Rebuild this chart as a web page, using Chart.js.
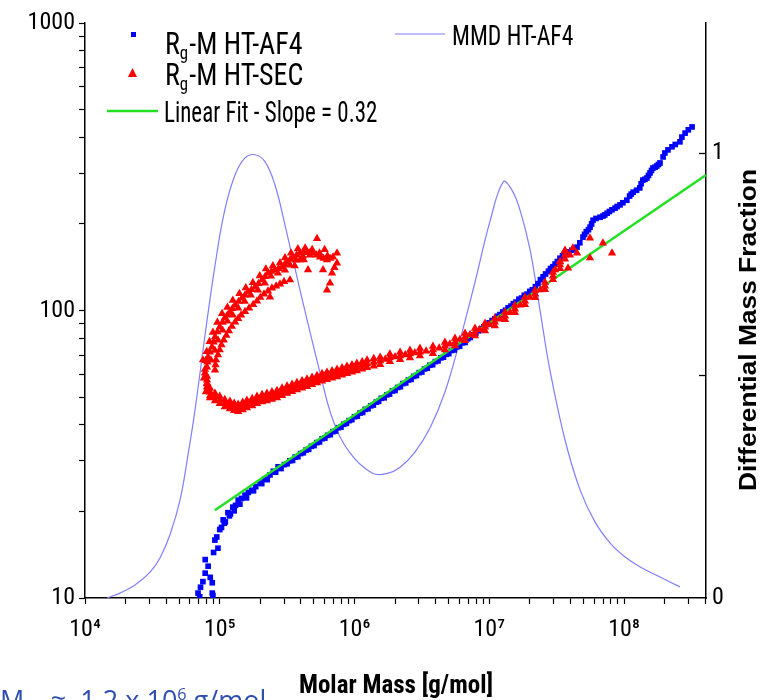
<!DOCTYPE html>
<html>
<head>
<meta charset="utf-8">
<script src="https://cdn.jsdelivr.net/npm/chart.js@4.4.1/dist/chart.umd.min.js"></script>
<style>
    html, body { margin: 0; padding: 0; background: #fff; overflow: hidden; }
    #wrap { position: relative; width: 763px; height: 700px; }
    #note {
        position: absolute; left: 0; top: 686px;
        font: 27px "Open Sans", "Noto Sans", sans-serif; line-height: 1;
        color: #2f4fb0; white-space: nowrap;
    }
    #note sub, #note sup { font-size: 0.6em; line-height: 0; }
</style>
</head>
<body>
<div id="wrap">
    <canvas id="chart" width="763" height="700"></canvas>
    <div id="note">M<sub>w</sub>&nbsp; ≈ &nbsp;1.2 x 10<sup>6</sup> g/mol</div>
</div>
<script>
const NARROW = '"Roboto Condensed", "Liberation Sans", Arial, sans-serif';
const WIDE = '"Liberation Sans", Arial, sans-serif';

// axes
const massDecades = [1e4, 1e5, 1e6, 1e7, 1e8];
const massTickLabels = ['10⁴', '10⁵', '10⁶', '10⁷', '10⁸'];
const rgDecades = [10, 100, 1000];
const rgTickLabels = ['10', '100', '1000'];
const fractionTicks = [0, 0.5, 1];
const fractionTickLabels = ['0', '', '1'];
const minorSteps = [2, 3, 4, 5, 6, 7, 8, 9];

// MMD HT-AF4 (right axis)
const mmdMass = [1.46e4, 1.82e4, 2.35e4, 3.04e4, 3.6e4, 4.27e4, 5.07e4, 5.81e4, 6.55e4, 7.78e4, 9.23e4,
    1.09e5, 1.3e5, 1.54e5, 1.83e5, 2.17e5, 2.57e5, 3.05e5, 3.94e5, 5.55e5, 6.92e5, 9.26e5, 1.35e6, 1.75e6,
    2.18e6, 2.81e6, 3.63e6, 4.69e6, 6.07e6, 7.84e6, 1.01e7, 1.27e7, 1.47e7, 1.69e7, 2.01e7, 2.38e7, 2.82e7,
    3.65e7, 4.72e7, 6.09e7, 7.87e7, 1.02e8, 1.31e8, 1.85e8, 2.6e8];
const mmdFraction = [0, 0.011, 0.029, 0.058, 0.09, 0.142, 0.22, 0.321, 0.422, 0.591, 0.748,
    0.872, 0.951, 0.989, 0.996, 0.98, 0.928, 0.838, 0.692, 0.506, 0.4, 0.326, 0.281, 0.28,
    0.294, 0.328, 0.382, 0.463, 0.58, 0.71, 0.845, 0.935, 0.917, 0.872, 0.782, 0.647, 0.512,
    0.355, 0.243, 0.171, 0.124, 0.092, 0.07, 0.047, 0.025];

// Rg-M HT-AF4
const af4Mass = [6.9e4, 7.1e4, 7.2e4, 7.5e4, 7.8e4, 7.8e4, 8.2e4, 8.5e4, 8.8e4, 8.8e4, 8.9e4, 9.0e4, 9.2e4, 9.5e4, 9.7e4,
    1.0e5, 1.03e5, 1.06e5, 1.1e5, 1.15e5, 1.2e5, 1.25e5, 1.31e5, 1.37e5, 1.45e5, 1.54e5, 1.63e5, 1.73e5, 1.85e5, 1.99e5,
    2.15e5, 2.36e5, 2.5e5, 2.71e5,
    3.02e5, 3.31e5, 3.63e5, 3.98e5, 4.37e5, 4.79e5, 5.25e5, 5.75e5, 6.31e5, 6.92e5, 7.59e5, 8.32e5, 9.12e5,
    1.0e6, 1.1e6, 1.2e6, 1.32e6, 1.45e6, 1.58e6, 1.74e6, 1.91e6, 2.09e6, 2.29e6, 2.51e6, 2.75e6, 3.02e6, 3.31e6,
    3.63e6, 3.98e6, 4.37e6, 4.79e6, 5.25e6, 5.75e6, 6.31e6, 6.92e6, 7.59e6, 8.32e6, 9.12e6,
    1.0e7, 1.1e7, 1.2e7, 1.32e7, 1.45e7, 1.58e7, 1.74e7, 1.91e7, 2.09e7,
    2.3e7, 2.51e7, 2.75e7, 2.97e7, 3.2e7, 3.5e7, 3.74e7, 4.1e7, 4.48e7, 4.96e7, 5.25e7, 5.6e7, 5.89e7, 6.64e7,
    6.98e7, 7.5e7, 8.15e7, 8.58e7, 9.34e7, 1.05e8, 1.1e8, 1.17e8, 1.31e8, 1.38e8, 1.48e8, 1.56e8, 1.64e8,
    1.75e8, 1.85e8, 1.95e8, 2.01e8, 2.27e8, 2.6e8, 2.69e8, 2.84e8, 3.2e8];
const af4Rg = [10.4, 10.1, 10.9, 11.4, 12.2, 13.6, 12.9, 11.8, 11.3, 10.4, 10.2, 14.4, 15.9, 16.3, 14.9,
    17.3, 17.6, 18.7, 18.4, 19.8, 19.6, 20.7, 21.0, 21.9, 22.2, 22.8, 23.3, 23.7, 24.4, 25.1,
    25.9, 26.8, 27.6, 28.6,
    29.1, 30.0, 30.9, 31.8, 32.7, 33.7, 34.7, 35.8, 36.8, 37.9, 39.1, 40.2, 41.4,
    42.7, 44.0, 45.3, 46.6, 48.0, 49.5, 50.9, 52.5, 54.0, 55.7, 57.3, 59.0, 60.8, 62.6,
    64.5, 66.4, 68.4, 70.4, 72.6, 74.7, 77.2, 79.7, 82.3, 85.0, 87.8,
    90.6, 93.6, 96.8, 100.2, 103.6, 107, 110.5, 114, 118,
    124, 131, 137, 142, 148, 155, 158, 162, 166, 180, 188, 195, 206, 211,
    213, 218, 224, 227, 233, 242, 250, 258, 267, 284, 289, 301, 313,
    318, 326, 342, 353, 371, 386, 401, 414, 435];

// Rg-M HT-AF4, second row of the dense band
const af4BandMass = [1.08e5, 1.18e5, 1.28e5, 1.41e5, 1.58e5, 1.78e5, 2.05e5, 2.25e5, 2.6e5, 2.85e5,
    3.16e5, 3.47e5, 3.8e5, 4.17e5, 4.57e5, 5.01e5, 5.5e5, 6.03e5, 6.61e5, 7.24e5, 7.94e5, 8.71e5, 9.55e5,
    1.05e6, 1.15e6, 1.26e6, 1.38e6, 1.51e6, 1.66e6, 1.82e6, 2.0e6, 2.19e6, 2.4e6, 2.63e6, 2.88e6, 3.16e6,
    3.47e6, 3.8e6, 4.17e6, 4.57e6, 5.01e6, 5.5e6, 6.03e6, 6.61e6, 7.24e6, 7.94e6, 8.71e6, 9.55e6,
    1.05e7, 1.15e7, 1.26e7, 1.38e7, 1.51e7, 1.66e7, 1.82e7, 2.0e7,
    2.2e7, 2.4e7, 2.62e7, 2.85e7, 3.08e7, 3.35e7, 3.6e7, 3.9e7, 4.3e7, 4.7e7, 5.1e7, 5.45e7, 5.75e7, 6.2e7,
    7.2e7, 7.8e7, 8.9e7, 9.8e7, 1.13e8, 1.24e8, 1.34e8, 1.43e8, 1.52e8, 1.6e8, 1.7e8, 1.8e8, 2.12e8, 2.4e8, 3.0e8];
const af4BandRg = [18.2, 19.3, 20.1, 21.2, 22.3, 23.6, 25.0, 25.8, 27.4, 28.2,
    29.3, 30.1, 31.0, 32.0, 32.9, 33.9, 34.9, 36.0, 37.0, 38.1, 39.3, 40.5, 41.7,
    42.9, 44.2, 45.5, 46.9, 48.3, 49.7, 51.2, 52.7, 54.3, 56.0, 57.6, 59.4, 61.1,
    63.0, 64.8, 66.8, 68.8, 70.8, 72.9, 75.1, 77.4, 80.6, 83.4, 86.3, 89.3,
    92.3, 95.5, 98.8, 102.2, 105.6, 109.5, 113, 116.5,
    121, 128, 134, 140, 145, 152, 157, 160, 164, 172, 184, 191, 200, 209,
    215, 221, 230, 237, 254, 262, 276, 286, 295, 307, 315, 322, 362, 378, 425];

// Rg-M HT-SEC, upper arm of the hook
const secUpperMass = [8.04e4, 8.18e4, 8.76e4, 9.22e4, 1.0e5, 1.09e5, 1.19e5, 1.3e5, 1.46e5, 1.62e5, 1.83e5, 2.06e5,
    2.28e5, 2.57e5, 2.9e5, 3.16e5, 3.5e5, 3.94e5, 4.44e5, 4.92e5, 5.55e5, 6.25e5, 6.93e5, 7.42e5, 6.81e5, 6.58e5, 6.25e5,
    8.1e4, 8.45e4, 9.0e4, 9.6e4, 1.05e5, 1.14e5, 1.24e5, 1.38e5, 1.54e5, 1.72e5, 1.94e5, 2.17e5,
    2.42e5, 2.73e5, 3.03e5, 3.33e5, 3.72e5, 4.18e5, 4.68e5, 5.22e5, 5.9e5, 6.6e5,
    8.6e4, 9.2e4, 9.7e4, 1.05e5, 1.14e5, 1.25e5, 1.37e5, 1.53e5, 1.7e5, 1.92e5, 2.16e5, 2.4e5,
    2.7e5, 3.05e5, 3.32e5, 3.68e5, 4.14e5, 4.66e5,
    9.22e4, 9.38e4, 1.0e5, 1.07e5, 1.17e5, 1.3e5, 1.44e5, 1.65e5, 1.89e5, 2.13e5, 2.44e5, 2.8e5,
    9.3e4, 9.7e4, 1.03e5, 1.12e5, 1.23e5, 1.37e5, 1.54e5, 1.77e5, 2.0e5, 2.28e5, 2.62e5, 3.0e5,
    7.9e4, 8.0e4, 8.4e4, 8.9e4, 9.6e4, 1.04e5, 1.14e5, 1.25e5, 1.4e5, 1.56e5, 1.76e5, 1.98e5,
    2.2e5, 2.48e5, 2.8e5, 3.05e5, 3.38e5, 3.8e5, 4.3e5, 4.85e5, 5.5e5, 6.3e5,
    5.27e5, 3.21e5, 3.32e5, 2.36e5, 4.52e5, 7.42e5, 5.84e5, 3.94e5, 7.1e5, 4.2e5, 3.6e5, 6.0e5];
const secUpperRg = [63.6, 68.9, 74.6, 80.9, 87.6, 94.2, 98.8, 104.5, 110.5, 116, 120.7, 127.7,
    135, 138.4, 141.7, 147.5, 153.5, 158.5, 159.7, 158.5, 153.5, 149.9, 153.5, 146.3, 135, 124.6, 117.8,
    66.2, 71.7, 77.7, 84.2, 90.9, 96.5, 101.6, 107.5, 113.2, 118.3, 124.1, 131.3,
    136.7, 140.0, 144.6, 150.5, 156, 159.1, 159.1, 156, 151.7, 151.7,
    67.2, 72.7, 78.9, 85.4, 91.8, 96.3, 101.9, 107.7, 113.1, 117.7, 124.5, 131.6,
    135, 138.2, 143.8, 149.7, 154.5, 155.7,
    62.1, 67.3, 72.9, 78.9, 84.9, 91.2, 96.4, 102, 107.9, 114.1, 119.7, 123.6,
    64.7, 70.1, 75.9, 81.9, 88.0, 93.8, 99.2, 104.9, 111, 116.9, 121.6, 126,
    67, 72, 78, 84, 91, 97.5, 102.5, 108.5, 114.5, 120, 125, 132,
    139.5, 143, 146.5, 152.5, 158.5, 164, 165, 163, 158.5, 155,
    178, 147.5, 127.7, 111.4, 138.4, 158.5, 138.4, 149.9, 141, 150, 143, 163];

// Rg-M HT-SEC, lower arm (middle, upper edge, lower edge of the band)
const secLowerMass = [7.77e4, 8.04e4, 8.04e4, 8.47e4, 9.22e4, 1.0e5, 1.09e5, 1.19e5, 1.28e5, 1.37e5, 1.48e5, 1.59e5,
    1.74e5, 1.89e5, 2.06e5, 2.24e5, 2.44e5, 2.66e5, 2.9e5, 3.16e5, 3.44e5, 3.74e5, 4.08e5, 4.44e5, 4.84e5, 5.27e5,
    5.74e5, 6.25e5, 6.81e5, 7.42e5, 8.08e5, 8.8e5, 9.58e5, 1.04e6, 1.14e6, 1.24e6, 1.39e6, 1.55e6, 1.83e6, 2.18e6,
    2.58e6, 3.06e6, 3.82e6, 4.69e6, 5.57e6, 6.61e6, 7.84e6, 9.3e6, 1.1e7, 1.31e7, 1.55e7, 1.84e7, 2.19e7, 2.59e7,
    2.97e7, 3.35e7, 3.65e7];
const secLowerRg = [60.6, 57.3, 54.2, 52.0, 50.0, 48.8, 47.6, 46.9, 46.2, 45.8, 46.5, 47.3,
    48.0, 48.8, 49.5, 50.0, 50.6, 51.2, 52.1, 53.0, 53.8, 54.6, 55.3, 56.0, 56.9, 57.7,
    58.5, 59.2, 59.9, 60.6, 61.4, 62.1, 62.8, 63.6, 64.4, 65.2, 66.0, 66.8, 68.4, 69.5,
    70.6, 71.7, 72.9, 75.2, 77.7, 80.9, 84.2, 87.6, 91.2, 95.7, 101.2, 107.9, 114.1, 121.7,
    131.8, 144, 156];
const secLowerRgTop = [62.4, 59.0, 55.8, 53.6, 51.5, 50.3, 49.0, 48.3, 47.6, 47.2, 47.9, 48.7,
    49.4, 50.3, 51.0, 51.5, 52.1, 52.7, 53.7, 54.6, 55.4, 56.2, 57.0, 57.7, 58.6, 59.4,
    60.3, 61.0, 61.7, 62.4, 63.2, 64.0, 64.7, 65.5, 66.3, 67.2, 68.0, 68.8, 70.5, 71.6,
    72.7, 73.9, 75.1, 77.5, 80.0, 83.3, 86.7, 90.2, 93.9, 98.6, 104.2, 111.1, 117.5, 125.4,
    135.8, 148, 161];
const secLowerRgBottom = [58.8, 55.6, 52.6, 50.5, 48.5, 47.4, 46.2, 45.5, 44.9, 44.5, 45.1, 45.9,
    46.6, 47.4, 48.1, 48.5, 49.1, 49.7, 50.6, 51.5, 52.2, 53.0, 53.7, 54.4, 55.2, 56.0,
    56.8, 57.5, 58.2, 58.8, 59.6, 60.3, 61.0, 61.7, 62.5, 63.3, 64.1, 64.9, 66.4, 67.5,
    68.5, 69.6, 70.8, 73.0, 75.4, 78.5, 81.7, 85.0, 88.5, 92.9, 98.3, 104.8, 110.8, 118.2,
    128.0, 140, 151];

// Rg-M HT-SEC, in-between points and the scatter at the high mass end
const secExtraMass = [7.51e4, 7.64e4, 7.9e4, 8.47e4, 1.69e6, 2.0e6, 2.38e6, 2.8e6, 3.4e6, 4.25e6, 5.1e6, 6.05e6,
    7.2e6, 8.5e6, 1.0e7, 1.2e7, 1.43e7, 1.7e7, 2.0e7, 2.4e7,
    3.08e7, 3.35e7, 3.65e7, 3.97e7, 4.18e7, 3.84e7, 4.48e7, 5.59e7, 6.98e7, 8.15e7, 5.59e7];
const secExtraRg = [67.3, 58.2, 52.1, 49.7, 67.6, 69.0, 70.1, 71.2, 72.3, 74.0, 76.4, 79.3,
    82.5, 85.9, 89.4, 93.4, 98.4, 104.5, 111, 118,
    138.4, 147.5, 162, 156, 165, 140.5, 158.5, 178.7, 171.7, 158.5, 152.3];

// Linear fit, slope 0.32 (end points)
const fitMass = [9.2e4, 4.06e8];
const fitRg = [20.2, 296];

function toPoints(xs, ys) {
    return xs.map((x, i) => ({ x: x, y: ys[i] }));
}

function logTicks(decades, max) {
    const out = [];
    decades.forEach(d => {
        out.push({ value: d });
        minorSteps.forEach(m => {
            if (d * m <= max) out.push({ value: d * m });
        });
    });
    return out;
}

const af4Points = [].concat(toPoints(af4Mass, af4Rg), toPoints(af4BandMass, af4BandRg));
const secPoints = [].concat(
    toPoints(secUpperMass, secUpperRg),
    toPoints(secLowerMass, secLowerRg),
    toPoints(secLowerMass, secLowerRgTop),
    toPoints(secLowerMass, secLowerRgBottom),
    toPoints(secExtraMass, secExtraRg)
);

// legend text, R with a lowered g, drawn on the canvas
function drawParts(ctx, parts, x, y, size, sx, sy) {
    ctx.save();
    ctx.translate(x, y);
    ctx.scale(sx, sy);
    let cx = 0;
    parts.forEach(p => {
        ctx.font = (p.sub ? 15 : size) + 'px ' + NARROW;
        ctx.fillText(p.text, cx, p.sub ? 4 : 0);
        cx += ctx.measureText(p.text).width + (p.sub ? 1 : 0);
    });
    ctx.restore();
}

const decor = {
    id: 'decor',
    afterDraw(chart) {
        const { ctx, chartArea, scales } = chart;
        ctx.save();

        // right axis ticks point inward
        ctx.strokeStyle = '#000';
        ctx.lineWidth = 1.3;
        fractionTicks.slice(1).forEach(v => {
            const y = Math.round(scales.y2.getPixelForValue(v)) + 0.5;
            ctx.beginPath();
            ctx.moveTo(chartArea.right - 7, y);
            ctx.lineTo(chartArea.right, y);
            ctx.stroke();
        });

        // legend
        ctx.fillStyle = '#0000ff';
        ctx.fillRect(131, 32, 5, 5);
        ctx.fillStyle = '#ff0000';
        ctx.beginPath();
        ctx.moveTo(132.5, 68);
        ctx.lineTo(137, 77);
        ctx.lineTo(128, 77);
        ctx.closePath();
        ctx.fill();
        ctx.strokeStyle = '#22e022';
        ctx.lineWidth = 2.5;
        ctx.beginPath();
        ctx.moveTo(107, 111);
        ctx.lineTo(158, 111);
        ctx.stroke();
        ctx.strokeStyle = '#7f7fff';
        ctx.lineWidth = 1.2;
        ctx.beginPath();
        ctx.moveTo(395, 34);
        ctx.lineTo(445, 34);
        ctx.stroke();

        ctx.fillStyle = '#000';
        ctx.textAlign = 'left';
        ctx.textBaseline = 'alphabetic';
        drawParts(ctx, [{ text: 'R' }, { text: 'g', sub: true }, { text: '-M HT-AF4' }], 165, 54, 25, 1.12, 1.22);
        drawParts(ctx, [{ text: 'R' }, { text: 'g', sub: true }, { text: '-M HT-SEC' }], 165, 85, 25, 1.12, 1.22);
        drawParts(ctx, [{ text: 'Linear Fit - Slope = 0.32' }], 164, 122, 23, 1, 1.3);
        drawParts(ctx, [{ text: 'MMD HT-AF4' }], 452, 45, 23, 1.03, 1.2);

        // axis titles
        ctx.font = 'bold 25px ' + NARROW;
        ctx.textAlign = 'center';
        ctx.fillText('Molar Mass [g/mol]', 396, 693);

        ctx.save();
        ctx.translate(756, 330);
        ctx.rotate(-Math.PI / 2);
        ctx.font = 'bold 24px ' + WIDE;
        const w = ctx.measureText('Differential Mass Fraction').width;
        ctx.scale(322 / w, 1);
        ctx.fillText('Differential Mass Fraction', 0, 0);
        ctx.restore();

        ctx.restore();
    }
};

const axisGrid = { drawOnChartArea: false, drawTicks: true, tickLength: 6, color: '#000', tickColor: '#000', tickWidth: 1.2 };
const axisBorder = { display: true, color: '#000', width: 1.5 };
const tickFont = { family: NARROW, size: 24 };

new Chart(document.getElementById('chart'), {
    type: 'scatter',
    data: {
        datasets: [
            {
                label: 'Rg-M HT-SEC',
                data: secPoints,
                pointStyle: 'triangle',
                pointRadius: 4.8,
                backgroundColor: '#ff0000',
                borderColor: '#ff0000',
                borderWidth: 0,
                order: 1
            },
            {
                label: 'Linear Fit - Slope = 0.32',
                data: toPoints(fitMass, fitRg),
                showLine: true,
                pointRadius: 0,
                borderColor: '#22e022',
                borderWidth: 2.5,
                order: 2
            },
            {
                label: 'Rg-M HT-AF4',
                data: af4Points,
                pointStyle: 'rect',
                pointRadius: 4.0,
                backgroundColor: '#0000ff',
                borderColor: '#0000ff',
                borderWidth: 0,
                order: 3
            },
            {
                label: 'MMD HT-AF4',
                data: toPoints(mmdMass, mmdFraction),
                yAxisID: 'y2',
                showLine: true,
                pointRadius: 0,
                borderColor: '#7f7fff',
                borderWidth: 1.2,
                tension: 0.4,
                order: 4
            }
        ]
    },
    options: {
        responsive: false,
        animation: false,
        events: [],
        layout: { padding: { top: 23, left: 0, right: 0, bottom: 0 } },
        plugins: { legend: { display: false }, tooltip: { enabled: false } },
        scales: {
            x: {
                type: 'logarithmic',
                position: 'bottom',
                min: 1e4,
                max: 4.06e8,
                afterBuildTicks: s => { s.ticks = logTicks(massDecades, 4.06e8); },
                afterFit: s => { s.height = 102; },
                ticks: {
                    autoSkip: false,
                    maxRotation: 0,
                    padding: 12,
                    color: '#000',
                    font: tickFont,
                    callback: v => {
                        const i = massDecades.indexOf(v);
                        return i >= 0 ? massTickLabels[i] : '';
                    }
                },
                grid: axisGrid,
                border: axisBorder
            },
            y: {
                type: 'logarithmic',
                position: 'left',
                min: 10,
                max: 1000,
                afterBuildTicks: s => { s.ticks = logTicks(rgDecades, 1000); },
                afterFit: s => { s.width = 85; },
                ticks: {
                    autoSkip: false,
                    padding: 4,
                    color: '#000',
                    font: tickFont,
                    callback: v => {
                        const i = rgDecades.indexOf(v);
                        return i >= 0 ? rgTickLabels[i] : '';
                    }
                },
                grid: axisGrid,
                border: axisBorder
            },
            y2: {
                type: 'linear',
                position: 'right',
                min: 0,
                max: 1.292,
                afterBuildTicks: s => { s.ticks = fractionTicks.map(v => ({ value: v })); },
                afterFit: s => { s.width = 57; },
                ticks: {
                    autoSkip: false,
                    padding: 6,
                    color: '#000',
                    font: tickFont,
                    callback: v => {
                        const i = fractionTicks.indexOf(v);
                        return i >= 0 ? fractionTickLabels[i] : '';
                    }
                },
                grid: { drawOnChartArea: false, drawTicks: false },
                border: axisBorder
            }
        }
    },
    plugins: [decor]
});
</script>
</body>
</html>
